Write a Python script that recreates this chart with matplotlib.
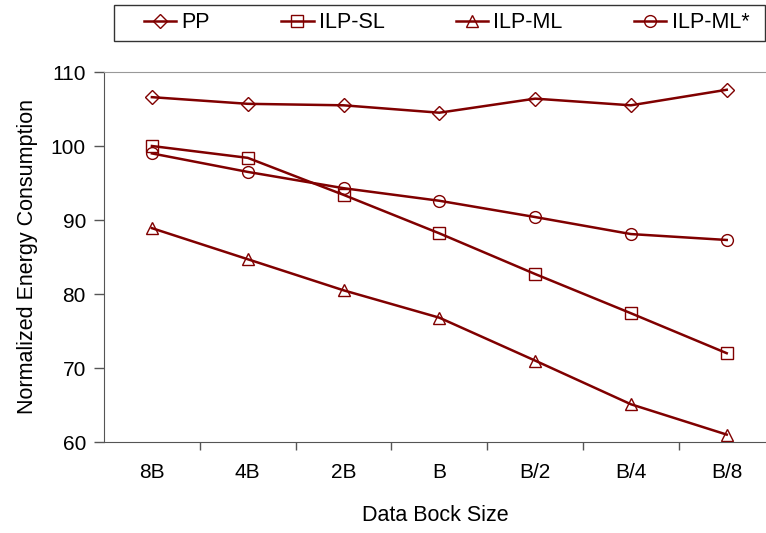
import matplotlib
matplotlib.use("Agg")
import matplotlib.pyplot as plt
from matplotlib.patches import Rectangle

categories = ["8B", "4B", "2B", "B", "B/2", "B/4", "B/8"]
pp = [106.6, 105.7, 105.5, 104.5, 106.4, 105.5, 107.6]
ilp_sl = [100.0, 98.4, 93.4, 88.2, 82.7, 77.4, 72.0]
ilp_ml = [88.9, 84.7, 80.5, 76.8, 71.0, 65.1, 61.0]
ilp_ml_star = [99.0, 96.5, 94.3, 92.6, 90.4, 88.1, 87.3]

plt.rcParams['font.family'] = ['Liberation Sans', 'DejaVu Sans']
color = '#800000'

fig = plt.figure(figsize=(7.66, 5.33), dpi=100)
ax = fig.add_axes([104/766, 1-442/533, 1-104/766, (442-72)/533])

x = list(range(len(categories)))
series = [("PP", pp, 'D', 7), ("ILP-SL", ilp_sl, 's', 8.5), ("ILP-ML", ilp_ml, '^', 8.5), ("ILP-ML*", ilp_ml_star, 'o', 8.5)]
for name, vals, m, ms in series:
    ax.plot(x, vals, color=color, lw=1.8, marker=m, markersize=ms, markerfacecolor='none',
            markeredgecolor=color, markeredgewidth=1.0, label=name)

ax.set_ylim(60, 110)
ax.set_yticks([60, 70, 80, 90, 100, 110])
ax.set_xlim(-0.5, 6.41)
ax.set_xticks(x)
ax.set_xticklabels(categories)
ax.set_xticks([i + 0.5 for i in range(6)], minor=True)
ax.tick_params(axis='x', which='major', length=0, labelsize=15, pad=15)
ax.tick_params(axis='x', which='minor', length=6, width=1, color='#555555', direction='out')
ax.tick_params(axis='y', length=7, width=1, color='#555555', direction='out', labelsize=15, pad=6)

ax.spines['right'].set_visible(False)
ax.spines['top'].set_color('#999999')
ax.spines['left'].set_color('#555555')
ax.spines['bottom'].set_color('#555555')

ax.set_xlabel("Data Bock Size", fontsize=15.5, labelpad=17)
ax.set_ylabel("Normalized Energy Consumption", fontsize=15.5, labelpad=9)

# legend frame
fig.patches.append(Rectangle((114/766, 1-41/533), (765-114)/766, 36/533,
                             transform=fig.transFigure, fill=False,
                             edgecolor='#333333', linewidth=1.0))
leg = fig.legend(loc='center left', bbox_to_anchor=(144/766, 1-23/533),
                 ncol=4, frameon=False, fontsize=15.5,
                 handlelength=1.5, handletextpad=0.25, columnspacing=3.3,
                 borderaxespad=0, borderpad=0)

fig.savefig("out.png", dpi=100)
